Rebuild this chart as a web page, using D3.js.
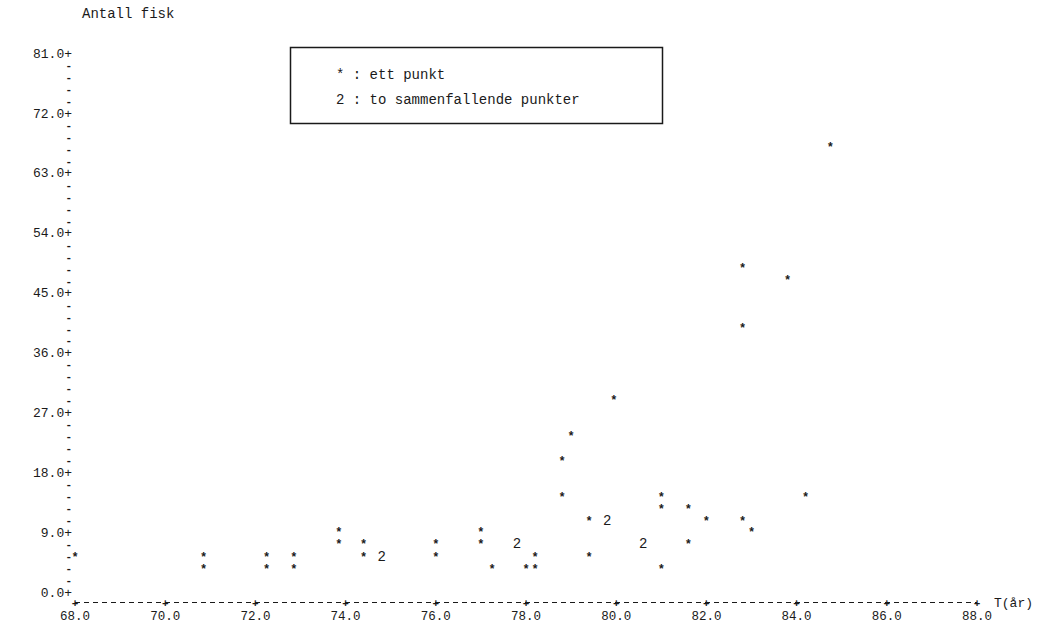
<!DOCTYPE html>
<html>
<head>
<meta charset="utf-8">
<script src="https://cdn.jsdelivr.net/npm/d3@7"></script>
<style>
  body { margin: 0; background: #fff; }
  text { font-family: "Liberation Mono", "DejaVu Sans Mono", monospace; fill: #1a1a1a; }
</style>
</head>
<body>
<div id="chart-area"></div>
<script>
// enkeltpunkter (*)
let starX = [68.0, 70.85, 70.85, 72.25, 72.25, 72.85, 72.85, 73.85, 73.85,
             74.4, 74.4, 76.0, 76.0, 77.0, 77.0, 77.25, 78.0, 78.2, 78.2,
             78.8, 78.8, 79.0, 79.4, 79.4, 79.95, 81.0, 81.0, 81.0,
             81.6, 81.6, 82.0, 82.8, 82.8, 82.8, 83.0, 83.8, 84.2, 84.75];
let starY = [5.6, 5.6, 3.8, 5.6, 3.8, 5.6, 3.8, 9.3, 7.5,
             7.5, 5.6, 7.5, 5.6, 9.3, 7.5, 3.8, 3.8, 3.8, 5.6,
             20.0, 14.6, 23.7, 11.0, 5.6, 29.2, 14.6, 12.8, 3.8,
             12.8, 7.5, 11.0, 49.0, 40.0, 11.0, 9.3, 47.2, 14.6, 67.2];
// to sammenfallende punkter (2)
let twoX = [74.8, 77.8, 79.8, 80.6];
let twoY = [5.4, 7.3, 10.8, 7.3];

let xTicks = [68, 70, 72, 74, 76, 78, 80, 82, 84, 86, 88];
let legendLines = ["* : ett punkt", "2 : to sammenfallende punkter"];

let width = 1038, height = 624;

let svg = d3.select("#chart-area")
            .append("svg")
            .attr("width", width)
            .attr("height", height);

let x = d3.scaleLinear().domain([68, 88]).range([75, 977]);
let y = d3.scaleLinear().domain([0, 81]).range([592, 53]);

// y axis, printer style: "81.0+" at major ticks, "-" in between
let yTicks = d3.range(46).map(i => +(i * 1.8).toFixed(1));
let yAxis = d3.axisLeft(y)
              .tickValues(yTicks)
              .tickSize(0)
              .tickPadding(0)
              .tickFormat((d, i) => i % 5 === 0 ? d.toFixed(1) + "+" : "-");

let gy = svg.append("g")
            .attr("transform", "translate(72,0)")
            .call(yAxis);
gy.select(".domain").remove();
gy.selectAll("text")
    .style("font-family", null)
    .attr("font-size", (d, i) => i % 5 === 0 ? "13px" : "11px")
    .attr("font-weight", (d, i) => i % 5 === 0 ? null : "bold");

// y label
svg.append("text")
    .text("Antall fisk")
    .attr("x", 82)
    .attr("y", 18)
    .attr("font-size", "14px");

// x axis
let axisY = 602.5;
svg.append("line")
    .attr("x1", x(68)).attr("x2", x(88))
    .attr("y1", axisY).attr("y2", axisY)
    .attr("stroke", "#1a1a1a")
    .attr("stroke-width", 1)
    .attr("stroke-dasharray", "5,4");

svg.selectAll(".xplus")
    .data(xTicks)
    .enter()
    .append("text")
    .attr("class", "xplus")
    .text("+")
    .attr("x", d => x(d))
    .attr("y", axisY + 4)
    .attr("text-anchor", "middle")
    .attr("font-size", "11px")
    .attr("font-weight", "bold");

svg.selectAll(".xlab")
    .data(xTicks)
    .enter()
    .append("text")
    .attr("class", "xlab")
    .text(d => d.toFixed(1))
    .attr("x", d => x(d))
    .attr("y", 620)
    .attr("text-anchor", "middle")
    .attr("font-size", "12.5px");

// x label
svg.append("text")
    .text("T(år)")
    .attr("x", 994)
    .attr("y", 607)
    .attr("font-size", "13px");

// legend box
svg.append("rect")
    .attr("x", 290.5).attr("y", 47.5)
    .attr("width", 372).attr("height", 76)
    .attr("fill", "none")
    .attr("stroke", "#1a1a1a")
    .attr("stroke-width", 1.5);

svg.selectAll(".leg")
    .data(legendLines)
    .enter()
    .append("text")
    .attr("class", "leg")
    .text(d => d)
    .attr("x", 336)
    .attr("y", (d, i) => 79 + i * 25)
    .attr("font-size", "14px");

// points, as printer characters
let stars = starX.map((d, i) => ({x: d, y: starY[i]}));
let twos = twoX.map((d, i) => ({x: d, y: twoY[i]}));

svg.selectAll(".star")
    .data(stars)
    .enter()
    .append("text")
    .attr("class", "star")
    .text("*")
    .attr("x", d => x(d.x))
    .attr("y", d => y(d.y) + 6)
    .attr("text-anchor", "middle")
    .attr("font-size", "12px")
    .attr("font-weight", "bold");

svg.selectAll(".two")
    .data(twos)
    .enter()
    .append("text")
    .attr("class", "two")
    .text("2")
    .attr("x", d => x(d.x))
    .attr("y", d => y(d.y) + 5)
    .attr("text-anchor", "middle")
    .attr("font-size", "14px");
</script>
</body>
</html>
